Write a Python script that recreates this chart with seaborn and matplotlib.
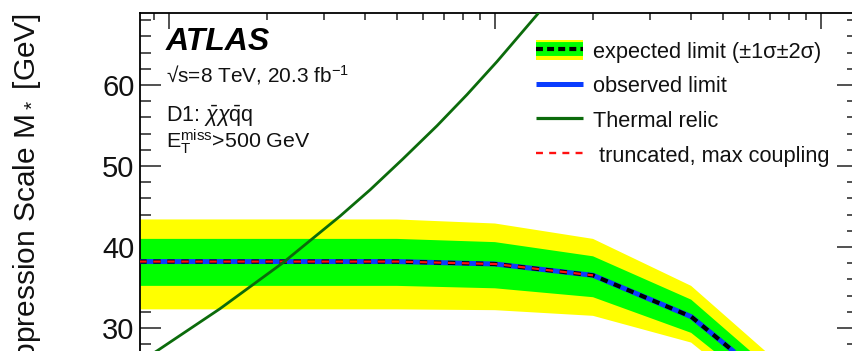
import matplotlib
matplotlib.use("Agg")
import matplotlib.pyplot as plt
import numpy as np
import pandas as pd
import seaborn as sns
from matplotlib.lines import Line2D
from matplotlib.patches import Patch
from matplotlib.ticker import MultipleLocator, NullFormatter

# WIMP mass points [GeV] and limits on the suppression scale M* [GeV]
mass = [1, 10, 50, 100, 200, 400, 700, 1000, 1300]
exp_median = [38.2, 38.2, 38.2, 37.9, 36.5, 31.4, 23.4, 19.5, 16.5]
exp_p1 = [41.0, 41.0, 41.0, 40.6, 38.85, 33.5, 25.0, 20.8, 17.6]
exp_m1 = [35.2, 35.2, 35.2, 34.9, 33.8, 29.4, 21.6, 18.0, 15.3]
exp_p2 = [43.4, 43.4, 43.4, 42.9, 41.0, 35.2, 26.6, 22.0, 18.6]
exp_m2 = [32.3, 32.3, 32.3, 32.2, 31.5, 28.2, 20.3, 16.9, 14.4]
observed = [38.2, 38.2, 38.2, 37.9, 36.5, 31.4, 23.4, 19.5, 16.5]

trunc_mass = [1, 10, 50, 100, 200]
truncated = [38.2, 38.2, 38.2, 37.9, 36.5]

relic_mass = [8.0, 9.18, 14.33, 22.35, 33.47, 41.42, 52.14, 66.42, 82.11, 101.5, 135.6, 150]
relic = [25.7, 27.16, 32.37, 38.04, 43.80, 47.06, 50.85, 54.96, 58.81, 62.89, 68.81, 70.9]

y_ticks = [30, 40, 50, 60]

legend_labels = ["expected limit (\u00b11\u03c3\u00b12\u03c3)", "observed limit",
                 "Thermal relic", " truncated, max coupling"]

YELLOW = "#ffff00"
GREEN = "#00ff00"
BLUE = "#0a3cff"
RELIC = "#0b6b0b"
RED = "#ff1010"

sns.set_theme(style="ticks")
plt.rcParams["font.family"] = ["Liberation Sans", "DejaVu Sans"]
plt.rcParams["mathtext.fontset"] = "custom"
plt.rcParams["mathtext.rm"] = "Liberation Sans"
plt.rcParams["mathtext.it"] = "Liberation Sans:italic"
plt.rcParams["mathtext.bf"] = "Liberation Sans:bold"
plt.rcParams["lines.scale_dashes"] = False
plt.rcParams["lines.solid_capstyle"] = "butt"
plt.rcParams["lines.dash_capstyle"] = "butt"

df = pd.DataFrame({"mass": mass, "median": exp_median, "p1": exp_p1, "m1": exp_m1,
                   "p2": exp_p2, "m2": exp_m2, "observed": observed})
df_tr = pd.DataFrame({"mass": trunc_mass, "truncated": truncated})
df_rel = pd.DataFrame({"mass": relic_mass, "relic": relic})

W, H = 853, 351
fig = plt.figure(figsize=(W / 100, H / 100), dpi=100)
x0, x1 = 140, 858
ytop, ybot = 13.2, 409
ax = fig.add_axes([x0 / W, 1 - ybot / H, (x1 - x0) / W, (ybot - ytop) / H])
ax.set_xscale("log")

ax.fill_between(df["mass"], df["m2"], df["p2"], color=YELLOW, lw=0, zorder=1)
ax.fill_between(df["mass"], df["m1"], df["p1"], color=GREEN, lw=0, zorder=2)
sns.lineplot(data=df, x="mass", y="observed", ax=ax, color=BLUE, lw=3.6,
             estimator=None, legend=False, zorder=3)
sns.lineplot(data=df, x="mass", y="median", ax=ax, color="black", lw=3.0,
             linestyle=(0, (5.3, 4.8)), estimator=None, legend=False, zorder=4)
sns.lineplot(data=df_tr, x="mass", y="truncated", ax=ax, color=RED, lw=1.6,
             linestyle=(0, (5.3, 4.8)), estimator=None, legend=False, zorder=5)
sns.lineplot(data=df_rel, x="mass", y="relic", ax=ax, color=RELIC, lw=2.0,
             estimator=None, legend=False, zorder=6)

ax.set_xlim(8.15, 1300)
ax.set_ylim(20, 68.86)
ax.set_xlabel("")
ax.set_ylabel("Suppression Scale M$_*$ [GeV]", loc="top", fontsize=21.5, color="#111111")
ax.yaxis.set_label_coords(-0.135, 1.0)

ax.set_yticks(y_ticks)
ax.yaxis.set_minor_locator(MultipleLocator(2))
ax.xaxis.set_minor_formatter(NullFormatter())
for s in ax.spines.values():
    s.set_linewidth(1.3)
    s.set_color("black")
    s.set_visible(True)
ax.tick_params(axis="y", which="major", length=15, width=1.1, direction="in",
               left=True, right=True, labelsize=21, pad=4, color="#222222",
               labelcolor="#111111")
ax.tick_params(axis="y", which="minor", length=8, width=1.1, direction="in",
               left=True, right=True, color="#222222")
ax.tick_params(axis="x", which="major", length=11.5, width=1.1, direction="in",
               top=True, bottom=True, color="#222222", labelbottom=False)
ax.tick_params(axis="x", which="minor", length=5, width=1.1, direction="in",
               top=True, bottom=True, color="#222222")

# legend
h_exp = (Patch(facecolor=YELLOW, edgecolor="none"),
         Line2D([], [], color=GREEN, lw=10),
         Line2D([], [], color="black", lw=3.0, linestyle=(0, (5, 3))))
h_obs = Line2D([], [], color=BLUE, lw=3.6)
h_rel = Line2D([], [], color=RELIC, lw=2.3)
h_tr = Line2D([], [], color=RED, lw=1.7, linestyle=(0, (5, 4.5)))
leg = ax.legend([h_exp, h_obs, h_rel, h_tr], legend_labels, loc="upper left",
                bbox_to_anchor=(536 / W, 1 - 40 / H), bbox_transform=fig.transFigure,
                frameon=False, fontsize=15.7, borderpad=0, borderaxespad=0,
                handlelength=2.15, handleheight=1.05, handletextpad=0.45,
                labelspacing=0.56)
for t in leg.get_texts():
    t.set_color("#111111")

# experiment label and selection
fig.text(166 / W, 1 - 50 / H, "ATLAS", fontsize=23, fontweight="bold",
         fontstyle="italic", va="baseline", color="black")
fig.text(166 / W, 1 - 82.5 / H, "\u221as=8 TeV, 20.3 fb$^{-1}$", fontsize=15,
         va="baseline", color="#111111")
fig.text(166 / W, 1 - 122 / H, r"D1: $\bar{\chi}\chi\bar{\mathrm{q}}\mathrm{q}$",
         fontsize=15.5, va="baseline", color="#111111")
fig.text(166 / W, 1 - 148 / H, r"$\mathrm{E}_\mathrm{T}^\mathrm{miss}$>500 GeV",
         fontsize=15.4, va="baseline", color="#111111")

fig.savefig("out.png", dpi=100)
